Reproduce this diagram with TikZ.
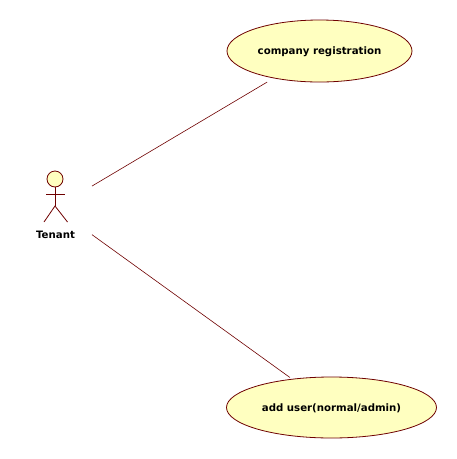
\documentclass[tikz,border=0pt]{standalone}
\usepackage{fontspec}
\setmainfont{DejaVu Sans}
\usetikzlibrary{shapes.geometric}
\definecolor{umlline}{RGB}{110,0,0}
\definecolor{umlfill}{RGB}{255,255,192}
\tikzset{
  usecase/.style={ellipse,draw=umlline,fill=umlfill,line width=0.8pt,inner sep=0pt,outer sep=0pt,text depth=0pt},
  label/.style={font=\bfseries\fontsize{10.2pt}{12pt}\selectfont,text=black},
  assoc/.style={draw=umlline,line width=0.6pt},
  limb/.style={draw=umlline,line width=0.8pt}
}
\begin{document}
\begin{tikzpicture}[x=1pt,y=-1pt]
  \useasboundingbox (0,0) rectangle (457,459);
  %
  % Use cases
  \node[usecase,minimum width=185pt,minimum height=62pt,label] (company) at (319.5,51) {company registration};
  \node[usecase,minimum width=210pt,minimum height=61pt,label] (adduser) at (331.5,407.5) {add user(normal/admin)};
  %
  % Actor
  \node[minimum width=74pt,minimum height=70pt,inner sep=0pt,outer sep=0pt] (tenant) at (55,208) {};
  \node[circle,draw=umlline,fill=umlfill,line width=0.8pt,minimum size=16pt,inner sep=0pt,outer sep=0pt] (head) at (55,179) {};
  \coordinate (hip) at (55,206);
  \draw[limb] (head) -- (hip);
  \draw[limb] (46,194) -- (65,194);
  \draw[limb] (44,222) -- (hip) -- (67.5,222);
  \node[label] (name) at (55.5,235) {Tenant};
  %
  % Associations
  \draw[assoc,shorten >=8pt] (tenant) -- (company);
  \draw[assoc,shorten >=3pt] (tenant) -- (adduser);
  %
\end{tikzpicture}
\end{document}
